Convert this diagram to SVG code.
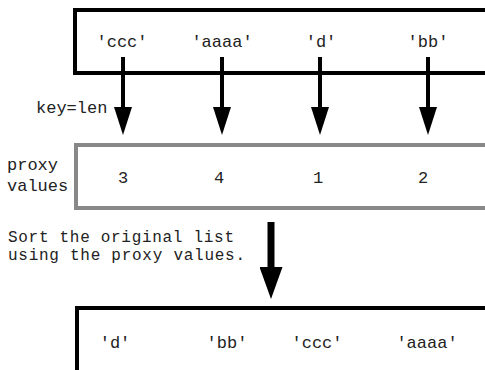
<svg xmlns="http://www.w3.org/2000/svg" width="485" height="370" viewBox="0 0 485 370">
<style>
text{font-family:"Liberation Mono","Courier New",monospace;font-size:17px;fill:#222}
.c{text-anchor:middle}
.note{font-size:16px}
.box{fill:none;stroke:#000;stroke-width:4}
.gray{stroke:#888}
.sm{stroke:#000;stroke-width:4;fill:none}
.bg{stroke:#000;stroke-width:7;fill:none}
</style>
<defs>
<marker id="ah" viewBox="0 0 28 18" refX="0" refY="9" markerWidth="28" markerHeight="18" markerUnits="userSpaceOnUse" orient="auto"><path d="M0,0 L28,9 L0,18 Z" fill="#000"/></marker>
<marker id="ahb" viewBox="0 0 32 23" refX="0" refY="11.5" markerWidth="32" markerHeight="23" markerUnits="userSpaceOnUse" orient="auto"><path d="M0,0 L32,11.5 L0,23 Z" fill="#000"/></marker>
</defs>
<g id="original">
<rect class="box" x="75" y="10" width="500" height="63"/>
<text class="c" x="122" y="47">'ccc'</text>
<text class="c" x="222" y="47">'aaaa'</text>
<text class="c" x="321" y="47">'d'</text>
<text class="c" x="428" y="47">'bb'</text>
</g>
<g id="proxy">
<rect class="box gray" x="76" y="145" width="500" height="63"/>
<text class="c" x="123" y="183">3</text>
<text class="c" x="219" y="183">4</text>
<text class="c" x="318" y="183">1</text>
<text class="c" x="423" y="183">2</text>
<text x="7" y="170">proxy</text>
<text x="7" y="191">values</text>
</g>
<g id="sorted">
<rect class="box" x="77" y="308" width="500" height="200"/>
<text class="c" x="115" y="348">'d'</text>
<text class="c" x="227" y="348">'bb'</text>
<text class="c" x="317" y="348">'ccc'</text>
<text class="c" x="427" y="348">'aaaa'</text>
</g>
<g id="labels">
<text x="36" y="113">key=len</text>
<text class="note" x="8" y="242" textLength="226" lengthAdjust="spacing">Sort the original list</text>
<text class="note" x="8" y="260" textLength="237" lengthAdjust="spacing">using the proxy values.</text>
</g>
<g id="connectors">
<line class="sm" x1="123" y1="57" x2="123" y2="107" marker-end="url(#ah)"/>
<line class="sm" x1="222" y1="57" x2="222" y2="107" marker-end="url(#ah)"/>
<line class="sm" x1="320" y1="57" x2="320" y2="107" marker-end="url(#ah)"/>
<line class="sm" x1="428" y1="57" x2="428" y2="107" marker-end="url(#ah)"/>
<line class="bg" x1="271" y1="222" x2="271" y2="267" marker-end="url(#ahb)"/>
</g>
</svg>
